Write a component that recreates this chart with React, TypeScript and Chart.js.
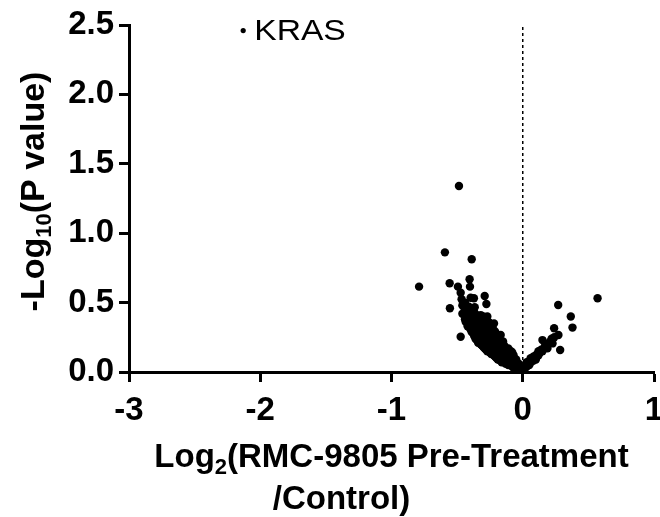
import { useEffect, useRef } from "react";
import { Chart, registerables } from "chart.js";

Chart.register(...registerables);

// Log2 fold change (x) and -log10 p value (y) for each protein
const xValues = [
  -0.486, -0.593, -0.389, -0.79, -0.557, -0.405, -0.402, -0.494, -0.473, -0.466,
  -0.397, -0.372, -0.29, -0.277, -0.555, -0.448, -0.366, -0.415, -0.435, -0.473,
  -0.366, -0.46, -0.46, -0.44, -0.44, -0.44, -0.43, -0.43, -0.42, -0.42,
  -0.42, -0.41, -0.41, -0.4, -0.4, -0.4, -0.39, -0.39, -0.39, -0.38,
  -0.38, -0.38, -0.37, -0.37, -0.37, -0.37, -0.36, -0.36, -0.36, -0.35,
  -0.35, -0.35, -0.35, -0.34, -0.34, -0.34, -0.34, -0.33, -0.33, -0.33,
  -0.33, -0.32, -0.32, -0.32, -0.32, -0.32, -0.31, -0.31, -0.31, -0.31,
  -0.3, -0.3, -0.3, -0.3, -0.3, -0.29, -0.29, -0.29, -0.29, -0.28,
  -0.28, -0.28, -0.28, -0.28, -0.27, -0.27, -0.27, -0.27, -0.27, -0.26,
  -0.26, -0.26, -0.26, -0.26, -0.25, -0.25, -0.25, -0.25, -0.25, -0.24,
  -0.24, -0.24, -0.24, -0.24, -0.23, -0.23, -0.23, -0.23, -0.23, -0.22,
  -0.22, -0.22, -0.22, -0.22, -0.21, -0.21, -0.21, -0.21, -0.21, -0.2,
  -0.2, -0.2, -0.2, -0.2, -0.19, -0.19, -0.19, -0.19, -0.19, -0.18,
  -0.18, -0.18, -0.18, -0.17, -0.17, -0.17, -0.17, -0.16, -0.16, -0.16,
  -0.16, -0.15, -0.15, -0.15, -0.15, -0.14, -0.14, -0.14, -0.14, -0.13,
  -0.13, -0.13, -0.13, -0.12, -0.12, -0.12, -0.11, -0.11, -0.11, -0.11,
  -0.1, -0.1, -0.1, -0.09, -0.09, -0.09, -0.09, -0.08, -0.08, -0.08,
  -0.08, -0.07, -0.07, -0.07, -0.07, -0.06, -0.06, -0.05, -0.05, -0.05,
  -0.04, -0.04, -0.03, -0.03, -0.02, -0.02, -0.01, -0.01, 0.0, 0.0,
  0.01, 0.02, 0.02, 0.03, 0.03, 0.04, 0.05, 0.05, 0.06, 0.06,
  0.07, 0.08, 0.08, 0.09, 0.1, 0.1, 0.11, 0.12, 0.12, 0.13,
  0.14, 0.15, 0.16, 0.17, 0.18, 0.19, 0.2, 0.21, 0.22, 0.24,
  0.087, 0.124, 0.15, 0.188, 0.227, 0.239, 0.272, 0.285, 0.27, 0.366,
  0.379, 0.57, -0.308, -0.27, -0.168, -0.219, -0.27,
];

const yValues = [
  1.34, 0.862, 0.812, 0.615, 0.639, 0.668, 0.615, 0.615, 0.571, 0.524,
  0.535, 0.531, 0.548, 0.49, 0.459, 0.47, 0.466, 0.403, 0.362, 0.254,
  0.29, 0.42, 0.48, 0.38, 0.45, 0.5, 0.36, 0.41, 0.33, 0.44,
  0.39, 0.35, 0.47, 0.31, 0.37, 0.42, 0.34, 0.29, 0.45, 0.28,
  0.36, 0.4, 0.31, 0.26, 0.43, 0.38, 0.24, 0.33, 0.29, 0.27,
  0.35, 0.41, 0.23, 0.3, 0.25, 0.38, 0.21, 0.22, 0.33, 0.28,
  0.36, 0.2, 0.26, 0.31, 0.35, 0.41, 0.23, 0.29, 0.19, 0.38,
  0.18, 0.25, 0.33, 0.21, 0.4, 0.28, 0.17, 0.36, 0.23, 0.2,
  0.31, 0.26, 0.38, 0.16, 0.15, 0.24, 0.34, 0.29, 0.19, 0.21,
  0.27, 0.36, 0.17, 0.31, 0.14, 0.23, 0.3, 0.19, 0.35, 0.16,
  0.26, 0.33, 0.21, 0.13, 0.19, 0.28, 0.15, 0.24, 0.31, 0.12,
  0.22, 0.3, 0.17, 0.26, 0.14, 0.2, 0.25, 0.29, 0.11, 0.16,
  0.23, 0.1, 0.19, 0.27, 0.13, 0.21, 0.09, 0.25, 0.17, 0.11,
  0.15, 0.2, 0.24, 0.08, 0.13, 0.18, 0.22, 0.1, 0.15, 0.07,
  0.2, 0.12, 0.17, 0.08, 0.22, 0.07, 0.1, 0.14, 0.19, 0.09,
  0.12, 0.16, 0.06, 0.06, 0.11, 0.14, 0.08, 0.05, 0.13, 0.17,
  0.06, 0.1, 0.15, 0.05, 0.08, 0.12, 0.15, 0.04, 0.07, 0.11,
  0.14, 0.05, 0.09, 0.03, 0.12, 0.04, 0.07, 0.03, 0.06, 0.09,
  0.02, 0.05, 0.03, 0.06, 0.01, 0.04, 0.02, 0.005, 0.01, 0.03,
  0.02, 0.03, 0.05, 0.04, 0.07, 0.06, 0.05, 0.08, 0.07, 0.1,
  0.09, 0.08, 0.11, 0.1, 0.12, 0.09, 0.13, 0.12, 0.15, 0.14,
  0.16, 0.15, 0.17, 0.19, 0.18, 0.2, 0.21, 0.22, 0.24, 0.25,
  0.11, 0.134, 0.23, 0.17, 0.206, 0.315, 0.267, 0.158, 0.483, 0.4,
  0.32, 0.531, 0.206, 0.182, 0.267, 0.35, 0.4,
];

const highlightLabel = "KRAS";
const highlightX = [-2.13];
const highlightY = [2.46];

const xTicks = [-3, -2, -1, 0, 1];
const yTicks = [0, 0.5, 1, 1.5, 2, 2.5];

const FONT = "'Liberation Sans', Arial, Helvetica, sans-serif";

function drawRich(
  ctx: CanvasRenderingContext2D,
  parts: { t: string; sub?: boolean }[],
  x: number,
  y: number,
  size: number
) {
  // x is centre, y is baseline
  const subSize = Math.round(size * 0.66);
  let total = 0;
  for (const p of parts) {
    ctx.font = `bold ${p.sub ? subSize : size}px ${FONT}`;
    total += ctx.measureText(p.t).width;
  }
  let cx = x - total / 2;
  for (const p of parts) {
    ctx.font = `bold ${p.sub ? subSize : size}px ${FONT}`;
    ctx.fillText(p.t, cx, p.sub ? y + size * 0.22 : y);
    cx += ctx.measureText(p.t).width;
  }
}

const titlesPlugin = {
  id: "titles",
  afterDraw(chart: any) {
    const ctx = chart.ctx as CanvasRenderingContext2D;
    const area = chart.chartArea;
    ctx.save();
    ctx.fillStyle = "#000";
    ctx.textAlign = "left";
    ctx.textBaseline = "alphabetic";
    const midX = (area.left + area.right) / 2;
    drawRich(ctx, [{ t: "Log" }, { t: "2", sub: true }, { t: "(RMC-9805 Pre-Treatment" }], midX, 467, 33);
    drawRich(ctx, [{ t: "/Control)" }], midX - 50, 509, 33);
    ctx.translate(44, (area.top + area.bottom) / 2 - 7);
    ctx.rotate(-Math.PI / 2);
    drawRich(ctx, [{ t: "-Log" }, { t: "10", sub: true }, { t: "(P value)" }], 0, 0, 34);
    ctx.restore();

    // highlight label
    const xs = chart.scales.x;
    const ys = chart.scales.y;
    ctx.save();
    ctx.fillStyle = "#000";
    ctx.textAlign = "left";
    ctx.textBaseline = "middle";
    const lx = xs.getPixelForValue(highlightX[0]) + 11;
    const ly = ys.getPixelForValue(highlightY[0]) + 1;
    ctx.translate(lx, ly);
    ctx.scale(1.16, 1);
    ctx.font = `29px ${FONT}`;
    ctx.fillText(highlightLabel, 0, 0);
    ctx.restore();
  },
};

export default function App() {
  const ref = useRef<HTMLCanvasElement>(null);
  useEffect(() => {
    document.body.style.margin = "0";
    const points = xValues.map((x, i) => ({ x, y: yValues[i] }));
    const hl = highlightX.map((x, i) => ({ x, y: highlightY[i] }));
    const tickFont = { family: FONT, size: 33, weight: "bold" as const };
    const chart = new Chart(ref.current!, {
      type: "scatter",
      data: {
        datasets: [
          {
            type: "line",
            data: [
              { x: 0, y: 0 },
              { x: 0, y: 2.5 },
            ],
            borderColor: "#000",
            borderWidth: 1.5,
            borderDash: [3, 3],
            pointRadius: 0,
            fill: false,
          } as any,
          {
            data: points,
            pointRadius: 4.2,
            backgroundColor: "#000",
            borderWidth: 0,
          },
          {
            data: hl,
            pointRadius: 2.6,
            backgroundColor: "#000",
            borderWidth: 0,
          },
        ],
      },
      options: {
        animation: false,
        responsive: false,
        maintainAspectRatio: false,
        layout: { padding: { top: 25, right: 6, left: 0, bottom: 0 } },
        plugins: { legend: { display: false }, tooltip: { enabled: false } },
        scales: {
          x: {
            type: "linear",
            min: -3,
            max: 1,
            afterBuildTicks: (s: any) => {
              s.ticks = xTicks.map((v) => ({ value: v }));
            },
            afterFit: (s: any) => {
              s.height = 145;
              s.paddingLeft = 0;
              s.paddingRight = 0;
            },
            grid: {
              display: true,
              drawOnChartArea: false,
              drawTicks: true,
              tickLength: 10,
              tickWidth: 3,
              tickColor: "#000",
            },
            border: { display: true, color: "#000", width: 3 },
            ticks: {
              font: tickFont,
              color: "#000",
              padding: 9,
              maxRotation: 0,
              callback: (v: any) => String(v),
            },
          },
          y: {
            type: "linear",
            min: 0,
            max: 2.5,
            afterBuildTicks: (s: any) => {
              s.ticks = yTicks.map((v) => ({ value: v }));
            },
            afterFit: (s: any) => {
              s.width = 129;
              s.paddingTop = 0;
              s.paddingBottom = 0;
            },
            grid: {
              display: true,
              drawOnChartArea: false,
              drawTicks: true,
              tickLength: 10,
              tickWidth: 3,
              tickColor: "#000",
            },
            border: { display: true, color: "#000", width: 3 },
            ticks: {
              font: tickFont,
              color: "#000",
              padding: 5,
              callback: (v: any) => Number(v).toFixed(1),
            },
          },
        },
      },
      plugins: [titlesPlugin],
    });
    return () => chart.destroy();
  }, []);
  return (
    <div style={{ position: "absolute", left: 0, top: 0, width: 660, height: 517 }}>
      <canvas ref={ref} width={660} height={517} style={{ width: 660, height: 517, display: "block" }} />
    </div>
  );
}
